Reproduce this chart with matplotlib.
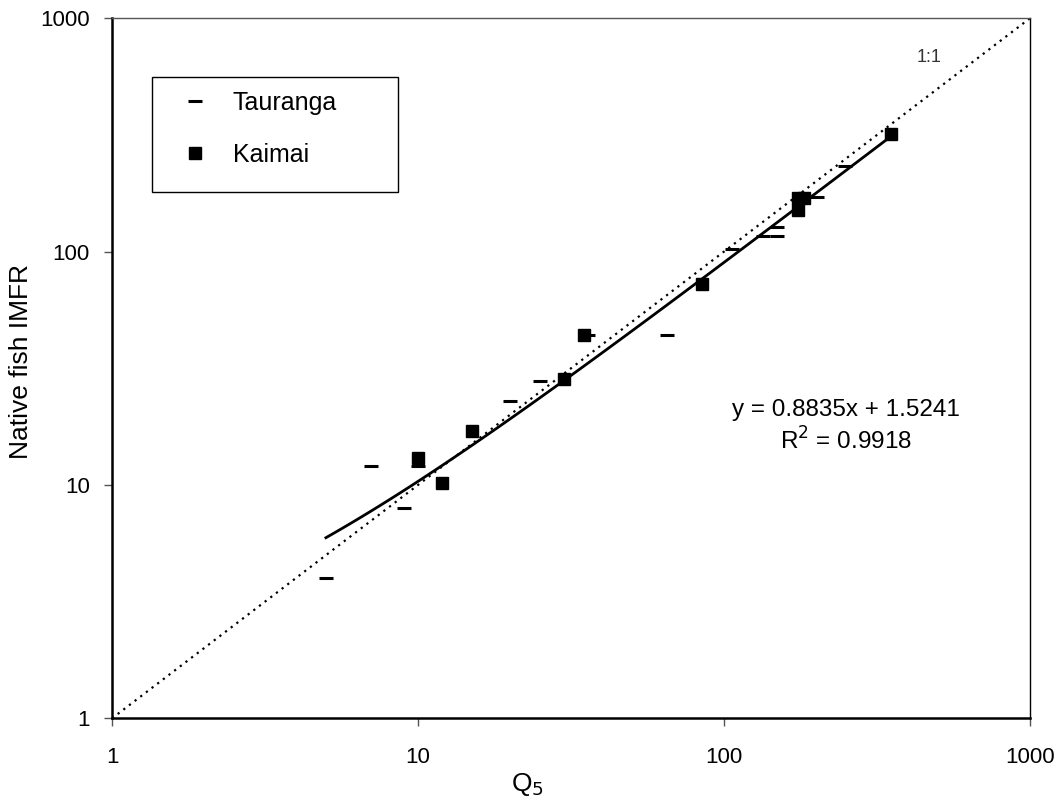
import matplotlib.pyplot as plt
from matplotlib.patches import Rectangle
import numpy as np

plt.rcParams['font.family'] = ['Liberation Sans', 'DejaVu Sans']

# Native fish IMFR against Q5 for the two regions
tauranga_x = [5, 7, 9, 10, 20, 25, 36, 65, 106, 134, 149, 149, 201, 248]
tauranga_y = [4, 12, 8, 12, 23, 28, 44, 44, 103, 116.5, 116.5, 127, 172, 233]

kaimai_x = [10, 12, 15, 30, 35, 85, 175, 175, 182, 352]
kaimai_y = [13, 10.2, 17, 28.4, 44, 73, 170, 151, 170, 320]

# linear trendline fitted to all points
slope, intercept = 0.8835, 1.5241
r_squared = 0.9918
fit_range = [5, 350]

ticks = [1, 10, 100, 1000]

fig = plt.figure(figsize=(10.64, 8.05), dpi=100)
ax = fig.add_axes([0.1053, 0.1077, 0.8627, 0.8696])
ax.set_xscale('log')
ax.set_yscale('log')
ax.set_xlim(1, 1000)
ax.set_ylim(1, 1000)

# 1:1 reference line
ax.plot([1, 1000], [1, 1000], color='black', lw=1.6, ls=(0, (1, 2.2)), zorder=2)
ax.text(468, 681, '1:1', fontsize=13, color='#333333', ha='center', va='center')

fx = np.logspace(np.log10(fit_range[0]), np.log10(fit_range[1]), 100)
ax.plot(fx, slope * fx + intercept, color='black', lw=2.0, zorder=3)

ax.plot(tauranga_x, tauranga_y, ls='none', marker='_', ms=10, mew=2.2,
        color='black', label='Tauranga', zorder=4)
ax.plot(kaimai_x, kaimai_y, ls='none', marker='s', ms=8.5,
        color='black', label='Kaimai', zorder=4)

ax.text(0.7996, 0.4404, f'y = {slope}x + {intercept}', transform=ax.transAxes,
        fontsize=17.5, ha='center', va='center')
ax.text(0.7996, 0.3961, f'R$^2$ = {r_squared}', transform=ax.transAxes,
        fontsize=17.5, ha='center', va='center')

ax.set_xticks(ticks)
ax.set_xticklabels([str(t) for t in ticks])
ax.set_yticks(ticks)
ax.set_yticklabels([str(t) for t in ticks])
ax.minorticks_off()
ax.tick_params(axis='both', labelsize=16, length=6, width=1, color='#555555')
ax.tick_params(axis='x', pad=15)
ax.tick_params(axis='y', pad=10)

for side in ['left', 'bottom']:
    ax.spines[side].set_linewidth(1.8)
ax.spines['top'].set_linewidth(1.0)
ax.spines['top'].set_color('#555555')
ax.spines['right'].set_linewidth(1.0)

ax.set_xlabel('Q$_5$', fontsize=19)
ax.set_ylabel('Native fish IMFR', fontsize=19)
ax.xaxis.set_label_coords(0.453, -0.075)
ax.yaxis.set_label_coords(-0.086, 0.51)

# legend box
ax.add_patch(Rectangle((0.0436, 0.7519), 0.268, 0.1643, transform=ax.transAxes,
                       facecolor='white', edgecolor='black', lw=1.0, zorder=5))
leg = ax.legend(loc='upper left', bbox_to_anchor=(0.0436, 0.923),
                fontsize=18, frameon=False, labelspacing=1.1,
                borderpad=0.76, handlelength=1.9, handletextpad=0.56,
                borderaxespad=0)
leg.set_zorder(6)

fig.savefig('out.png', dpi=100)
